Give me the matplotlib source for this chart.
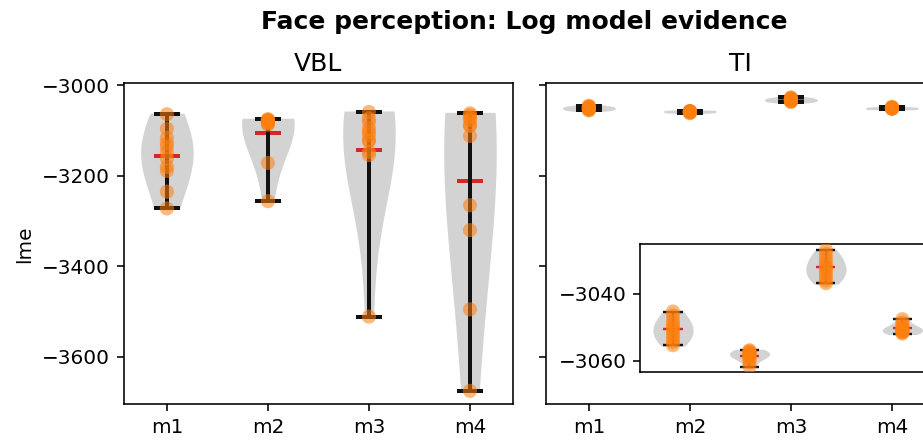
import numpy as np
import matplotlib
matplotlib.use("Agg")
import matplotlib.pyplot as plt

# Model labels
models = ["m1", "m2", "m3", "m4"]

# Log model evidence per subject, variational Bayes Laplace (VBL)
vbl_m1 = [-3064, -3096, -3116, -3128, -3136, -3148, -3162, -3180, -3189, -3235, -3272]
vbl_m2 = [-3075, -3076, -3077, -3078, -3080, -3081, -3083, -3085, -3087, -3171.5, -3256]
vbl_m3 = [-3059, -3073, -3081, -3095, -3103, -3110, -3122, -3123, -3147, -3154, -3511]
vbl_m4 = [-3062, -3066, -3072, -3077, -3088, -3090, -3112, -3265, -3320, -3495, -3675]

# Log model evidence per subject, thermodynamic integration (TI)
ti_m1 = [-3045.3, -3046.5, -3048.0, -3049.0, -3050.0, -3050.5, -3051.5, -3052.5, -3053.5, -3054.5, -3055.4]
ti_m2 = [-3056.9, -3057.2, -3057.5, -3057.8, -3058.0, -3058.3, -3058.6, -3059.0, -3059.6, -3060.5, -3061.8]
ti_m3 = [-3026.8, -3028.0, -3029.3, -3030.5, -3031.5, -3032.2, -3033.0, -3034.0, -3035.0, -3036.0, -3036.8]
ti_m4 = [-3047.6, -3048.6, -3049.5, -3050.0, -3050.4, -3050.7, -3051.0, -3051.2, -3051.4, -3051.6, -3051.9]

vbl = [vbl_m1, vbl_m2, vbl_m3, vbl_m4]
ti = [ti_m1, ti_m2, ti_m3, ti_m4]

DPI = 144
fig = plt.figure(figsize=(923 / DPI, 441 / DPI), dpi=DPI)
ax_vbl = fig.add_axes([0.1343, 0.0828, 0.4214, 0.728])
ax_ti = fig.add_axes([0.5915, 0.0828, 0.4214, 0.728], sharey=ax_vbl)
ax_in = ax_ti.inset_axes([0.243, 0.1, 0.757, 0.4])


def violins(ax, groups, lw=2.0, bw=1.25):
    pos = np.arange(1, len(groups) + 1)
    parts = ax.violinplot(groups, positions=pos, showmeans=True, bw_method=bw)
    for body in parts["bodies"]:
        body.set_facecolor("#d3d3d3")
        body.set_edgecolor("#d3d3d3")
        body.set_alpha(1)
    for key in ("cbars", "cmins", "cmaxes"):
        parts[key].set_color("#111111")
        parts[key].set_linewidth(lw)
    parts["cmeans"].set_color("#d62728")
    parts["cmeans"].set_linewidth(lw)
    for p, g in zip(pos, groups):
        ax.scatter(np.full(len(g), p), g, s=50, color="C1", alpha=0.55,
                   edgecolors="none", zorder=3)
    return pos


pos = violins(ax_vbl, vbl)
violins(ax_ti, ti, bw=0.7)
violins(ax_in, ti, lw=1.2, bw=0.7)

for ax in (ax_vbl, ax_ti):
    ax.set_xticks(pos, models)
ax_vbl.set_ylim(-3705, -2996)
ax_vbl.set_yticks([-3600, -3400, -3200, -3000])
ax_ti.tick_params(labelleft=False)
ax_vbl.set_ylabel("lme")
ax_vbl.set_title("VBL", fontsize=12.5)
ax_ti.set_title("TI", fontsize=12.5)

ax_in.set_xticks([])
ax_in.set_yticks([-3060, -3040])

fig.text(0.568, 0.950, "Face perception: Log model evidence",
         ha="center", va="center", fontsize=12.5, fontweight="bold")

fig.savefig("out.png", dpi=DPI)
